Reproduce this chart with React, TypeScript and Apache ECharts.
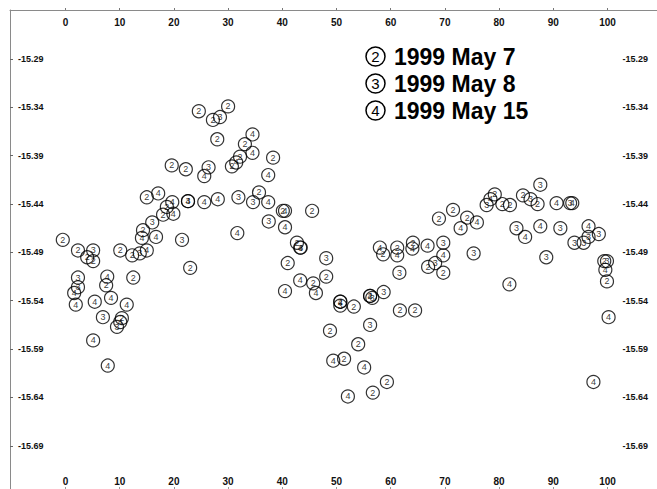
import React, { useEffect, useRef } from "react";
import * as echarts from "echarts";

const SERIES_NAMES = ["1999 May 7", "1999 May 8", "1999 May 15"];
const SERIES_DIGITS = ["2", "3", "4"];

const X_TICKS = [0, 10, 20, 30, 40, 50, 60, 70, 80, 90, 100];
const Y_TICKS = [-15.29, -15.34, -15.39, -15.44, -15.49, -15.54, -15.59, -15.64, -15.69];
const X_MIN = -10.24;
const X_MAX = 109.13;
const Y_MIN = -15.7347;
const Y_MAX = -15.2393;

const may7 = [
  [-0.5, -15.477], [2.3, -15.488], [4.0, -15.495], [5.1, -15.499], [10.1, -15.488], [12.3, -15.493],
  [23.0, -15.506], [7.5, -15.524], [12.5, -15.516], [10.4, -15.558], [15.0, -15.433], [18.7, -15.443],
  [18.0, -15.451], [14.3, -15.467], [19.6, -15.400], [22.2, -15.404], [24.6, -15.344], [27.2, -15.353],
  [30.0, -15.339], [28.0, -15.373], [33.1, -15.378], [32.2, -15.391], [30.7, -15.401], [38.3, -15.392],
  [35.7, -15.428], [40.1, -15.447], [45.5, -15.447], [42.7, -15.480], [41.0, -15.501], [48.1, -15.515],
  [45.7, -15.522], [50.7, -15.541], [53.2, -15.546], [56.2, -15.535], [61.7, -15.550], [64.5, -15.550],
  [48.8, -15.571], [54.0, -15.585], [51.4, -15.600], [59.3, -15.624], [56.7, -15.635], [58.6, -15.492],
  [61.2, -15.485], [64.1, -15.480], [66.9, -15.505], [69.7, -15.511], [71.5, -15.446], [68.9, -15.455],
  [74.1, -15.454], [79.2, -15.430], [80.6, -15.440], [82.0, -15.441], [84.4, -15.431], [87.1, -15.440],
  [99.9, -15.520], [99.4, -15.499],
];

const may8 = [
  [5.1, -15.488], [13.7, -15.491], [2.3, -15.516], [2.3, -15.526], [6.9, -15.557], [9.5, -15.567],
  [16.0, -15.459], [21.5, -15.477], [26.4, -15.402], [28.5, -15.350], [31.9, -15.433], [34.6, -15.438],
  [37.5, -15.458], [22.6, -15.437], [48.1, -15.496], [50.7, -15.545], [58.7, -15.531], [56.2, -15.565],
  [61.6, -15.511], [43.4, -15.485], [68.2, -15.501], [69.7, -15.480], [75.3, -15.491], [77.7, -15.441],
  [85.8, -15.435], [87.6, -15.420], [83.2, -15.465], [91.3, -15.465], [88.7, -15.495], [93.1, -15.439],
  [98.4, -15.471], [96.5, -15.474], [95.6, -15.480], [93.9, -15.480], [99.9, -15.499], [56.6, -15.537],
];

const may15 = [
  [1.6, -15.532], [1.9, -15.544], [5.4, -15.541], [8.4, -15.537], [11.3, -15.544], [10.1, -15.562],
  [5.1, -15.581], [7.8, -15.607], [7.7, -15.515], [15.0, -15.488], [14.1, -15.475], [16.7, -15.474],
  [19.9, -15.450], [19.7, -15.438], [17.1, -15.429], [22.6, -15.437], [25.6, -15.438], [28.1, -15.435],
  [25.6, -15.411], [37.4, -15.438], [37.4, -15.410], [34.5, -15.368], [34.5, -15.387], [31.5, -15.397],
  [40.5, -15.464], [31.7, -15.470], [40.5, -15.447], [43.3, -15.485], [43.3, -15.519], [40.5, -15.530],
  [46.2, -15.532], [50.7, -15.541], [56.2, -15.535], [49.4, -15.602], [55.1, -15.609], [52.1, -15.639],
  [58.0, -15.485], [64.0, -15.486], [61.2, -15.493], [66.8, -15.483], [69.7, -15.493], [72.9, -15.465],
  [75.9, -15.459], [78.4, -15.435], [84.8, -15.474], [87.6, -15.463], [90.6, -15.439], [96.5, -15.463],
  [99.6, -15.508], [81.9, -15.523], [100.2, -15.557], [97.4, -15.624], [93.5, -15.439],
];

const SERIES_DATA = [may7, may8, may15];
const FONT = "Liberation Sans";

export default function App() {
  const ref = useRef<HTMLDivElement>(null);
  useEffect(() => {
    if (!ref.current) return;
    const chart = echarts.init(ref.current, null, { renderer: "svg" });
    const axisLabelBase = { fontFamily: FONT, fontWeight: "bold", color: "#111" };
    const option: any = {
      animation: false,
      backgroundColor: "#ffffff",
      grid: { left: 10, top: 10, right: 0, bottom: 0, containLabel: false },
      legend: {
        orient: "vertical",
        left: 356,
        top: 40,
        itemGap: 4,
        icon: "none",
        itemWidth: 0,
        itemHeight: 0,
        selectedMode: false,
        data: SERIES_NAMES,
        formatter: (name: string) => `{c|${SERIES_DIGITS[SERIES_NAMES.indexOf(name)]}}{t|${name}}`,
        textStyle: {
          rich: {
            c: {
              width: 19, height: 19, lineHeight: 19, borderRadius: 11, borderColor: "#000", borderWidth: 1.5,
              align: "center", fontSize: 15, fontFamily: FONT, color: "#000",
            },
            t: { fontSize: 23, fontWeight: "bold", fontFamily: FONT, color: "#000", padding: [0, 0, 0, 9], lineHeight: 24 },
          },
        },
      },
      xAxis: [
        {
          type: "value", position: "top", min: X_MIN, max: X_MAX,
          axisLine: { show: true, onZero: false, lineStyle: { color: "#8a8a8a", width: 1 } },
          axisTick: { show: true, inside: false, length: 2, customValues: X_TICKS, lineStyle: { color: "#777" } },
          axisLabel: { inside: true, margin: 7, customValues: X_TICKS, fontSize: 10, ...axisLabelBase },
          splitLine: { show: false },
        },
        {
          type: "value", position: "bottom", min: X_MIN, max: X_MAX,
          axisLine: { show: false, onZero: false },
          axisTick: { show: true, inside: true, length: 2, customValues: X_TICKS, lineStyle: { color: "#999" } },
          axisLabel: { inside: true, margin: 3, customValues: X_TICKS, fontSize: 10, ...axisLabelBase },
          splitLine: { show: false },
        },
      ],
      yAxis: [
        {
          type: "value", position: "left", min: Y_MIN, max: Y_MAX,
          axisLine: { show: true, onZero: false, lineStyle: { color: "#8a8a8a", width: 1 } },
          axisTick: { show: true, inside: true, length: 3, customValues: Y_TICKS, lineStyle: { color: "#666" } },
          axisLabel: { inside: true, margin: 8, customValues: Y_TICKS, fontSize: 9, formatter: (v: number) => v.toFixed(2), ...axisLabelBase },
          splitLine: { show: false },
        },
        {
          type: "value", position: "right", min: Y_MIN, max: Y_MAX,
          axisLine: { show: false, onZero: false },
          axisTick: { show: false },
          axisLabel: { inside: true, margin: 9, customValues: Y_TICKS, fontSize: 9, formatter: (v: number) => v.toFixed(2), ...axisLabelBase },
          splitLine: { show: false },
        },
      ],
      series: SERIES_NAMES.map((name, i) => ({
        name,
        type: "scatter",
        xAxisIndex: 0,
        yAxisIndex: 0,
        data: SERIES_DATA[i],
        symbol: "circle",
        symbolSize: 13,
        itemStyle: { color: "rgba(255,255,255,0)", borderColor: "#000", borderWidth: 1.2 },
        label: {
          show: true, position: "inside", formatter: SERIES_DIGITS[i],
          fontSize: 9, fontFamily: FONT, color: "#000",
        },
        emphasis: { disabled: true },
      })),
    };
    chart.setOption(option);
    return () => chart.dispose();
  }, []);
  return (
    <div
      ref={ref}
      style={{ position: "fixed", left: 0, top: 0, width: 657, height: 489, background: "#fff" }}
    />
  );
}
